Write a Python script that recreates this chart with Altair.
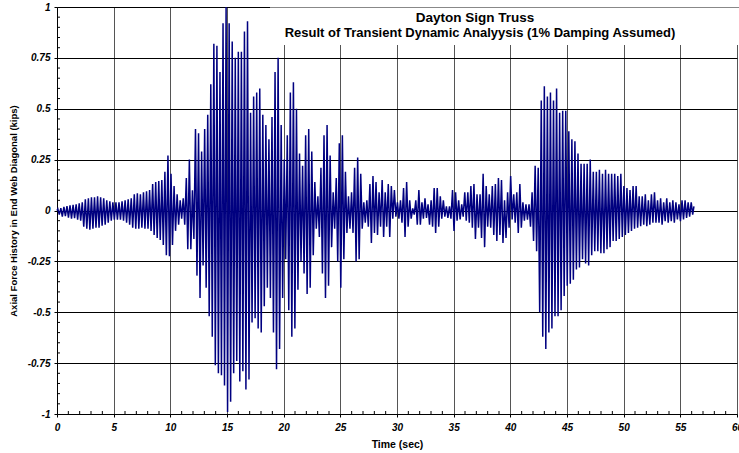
import altair as alt
import pandas as pd

# ---------------- data ----------------
# one oscillation cycle every PERIOD seconds; for each cycle the positive
# and the negative peak value (kips)
PERIOD = 0.27
TOP_OFFSET = 0.07
BOTTOM_OFFSET = 0.20

peak_max = [
    0.008, 0.012, 0.018, 0.022, 0.025, 0.028, 0.030, 0.035, 0.040, 0.055,  # 0.0-2.7 s
    0.060, 0.065, 0.065, 0.070, 0.065, 0.060, 0.050, 0.045, 0.040, 0.040,  # 2.7-5.4
    0.040, 0.045, 0.050, 0.055, 0.060, 0.080, 0.085, 0.080, 0.090, 0.095,  # 5.4-8.1
    0.100, 0.130, 0.140, 0.145, 0.150, 0.190, 0.270, 0.180, 0.120, 0.080,  # 8.1-10.8
    0.050, 0.060, 0.160, 0.250, 0.100, 0.400, 0.380, 0.290, 0.400, 0.470,  # 10.8-13.5
    0.620, 0.820, 0.810, 0.680, 0.920, 1.000, 0.920, 0.830, 0.750, 0.780,  # 13.5-16.2
    0.780, 0.880, 0.930, 0.480, 0.560, 0.580, 0.600, 0.470, 0.420, 0.350,  # 16.2-18.9
    0.460, 0.680, 0.750, 0.420, 0.250, 0.370, 0.580, 0.630, 0.500, 0.280,  # 18.9-21.6
    0.220, 0.370, 0.400, 0.290, 0.140, 0.070, 0.210, 0.370, 0.420, 0.270,  # 21.6-24.3
    0.090, 0.160, 0.330, 0.370, 0.190, 0.070, 0.090, 0.210, 0.260, 0.180,  # 24.3-27.0
    0.040, 0.050, 0.130, 0.170, 0.140, 0.090, 0.150, 0.090, 0.130, 0.120,  # 27.0-29.7
    0.100, 0.040, 0.050, 0.110, 0.140, 0.050, 0.010, 0.050, 0.100, 0.040,  # 29.7-32.4
    0.060, 0.030, 0.050, 0.110, 0.110, 0.070, 0.050, 0.020, 0.020, 0.100,  # 32.4-35.1
    0.090, 0.050, 0.030, 0.090, 0.090, 0.120, 0.130, 0.080, 0.080, 0.180,  # 35.1-37.8
    0.120, 0.080, 0.120, 0.130, 0.160, 0.150, 0.050, 0.090, 0.170, 0.080,  # 37.8-40.5
    0.090, 0.130, 0.040, 0.030, 0.030, 0.090, 0.220, 0.210, 0.540, 0.610,  # 40.5-43.2
    0.560, 0.580, 0.540, 0.600, 0.480, 0.490, 0.490, 0.390, 0.350, 0.340,  # 43.2-45.9
    0.280, 0.230, 0.230, 0.230, 0.250, 0.190, 0.190, 0.200, 0.180, 0.200,  # 45.9-48.6
    0.180, 0.180, 0.180, 0.170, 0.180, 0.120, 0.110, 0.100, 0.120, 0.120,  # 48.6-51.3
    0.070, 0.070, 0.080, 0.050, 0.080, 0.090, 0.050, 0.060, 0.040, 0.060,  # 51.3-54.0
    0.040, 0.050, 0.040, 0.030, 0.050, 0.050, 0.040, 0.040,                # 54.0-56.2
]

peak_min = [
    -0.020, -0.030, -0.028, -0.035, -0.040, -0.038, -0.045, -0.050, -0.080, -0.090,
    -0.095, -0.090, -0.085, -0.085, -0.075, -0.070, -0.060, -0.050, -0.045, -0.045,
    -0.045, -0.050, -0.060, -0.070, -0.085, -0.090, -0.090, -0.085, -0.090, -0.090,
    -0.100, -0.120, -0.135, -0.145, -0.170, -0.220, -0.225, -0.170, -0.100, -0.070,
    -0.040, -0.070, -0.190, -0.190, -0.140, -0.320, -0.430, -0.270, -0.380, -0.520,
    -0.620, -0.760, -0.800, -0.810, -0.860, -0.990, -0.940, -0.800, -0.740, -0.840,
    -0.790, -0.880, -0.830, -0.550, -0.530, -0.580, -0.600, -0.470, -0.380, -0.430,
    -0.600, -0.780, -0.680, -0.430, -0.240, -0.490, -0.620, -0.580, -0.390, -0.250,
    -0.310, -0.410, -0.380, -0.220, -0.090, -0.130, -0.310, -0.430, -0.370, -0.180,
    -0.090, -0.250, -0.380, -0.240, -0.110, -0.090, -0.110, -0.250, -0.240, -0.090,
    -0.060, -0.080, -0.160, -0.110, -0.120, -0.080, -0.130, -0.080, -0.130, -0.040,
    -0.030, -0.040, -0.060, -0.130, -0.080, -0.040, -0.020, -0.070, -0.070, -0.040,
    -0.036, -0.070, -0.080, -0.110, -0.080, -0.040, -0.030, -0.036, -0.040, -0.100,
    -0.050, -0.044, -0.030, -0.050, -0.060, -0.085, -0.140, -0.085, -0.135, -0.180,
    -0.080, -0.085, -0.120, -0.150, -0.120, -0.160, -0.135, -0.085, -0.044, -0.060,
    -0.110, -0.085, -0.050, -0.045, -0.080, -0.150, -0.200, -0.500, -0.620, -0.680,
    -0.600, -0.580, -0.520, -0.520, -0.490, -0.420, -0.370, -0.360, -0.340, -0.290,
    -0.280, -0.240, -0.260, -0.270, -0.220, -0.200, -0.200, -0.210, -0.210, -0.190,
    -0.180, -0.150, -0.150, -0.140, -0.130, -0.120, -0.110, -0.100, -0.090, -0.085,
    -0.077, -0.070, -0.077, -0.070, -0.060, -0.060, -0.060, -0.070, -0.052, -0.060,
    -0.052, -0.060, -0.044, -0.052, -0.044, -0.036, -0.030, -0.020,
]

start_point = (0.0, 0.0)
end_point = (56.2, 0.02)

x_ticks = [0, 5, 10, 15, 20, 25, 30, 35, 40, 45, 50, 55, 60]
y_ticks = [-1, -0.75, -0.5, -0.25, 0, 0.25, 0.5, 0.75, 1]
x_minor = [s for s in range(0, 61) if s % 5 != 0]
y_minor = [round(-1 + 0.05 * i, 2) for i in range(41) if i % 5 != 0]

title_lines = ["Dayton Sign Truss",
               "Result of Transient Dynamic Analyysis (1% Damping Assumed)"]
x_title = "Time (sec)"
y_title = "Axial Force History in End Web Diagonal (kips)"

# ---------------- build table ----------------
rows = [{"t": start_point[0], "v": start_point[1]}]
for k, (hi, lo) in enumerate(zip(peak_max, peak_min)):
    rows.append({"t": round(TOP_OFFSET + PERIOD * k, 3), "v": hi})
    rows.append({"t": round(BOTTOM_OFFSET + PERIOD * k, 3), "v": lo})
rows.append({"t": end_point[0], "v": end_point[1]})
df = pd.DataFrame(rows)

W, H = 680, 407
FONT = "Liberation Sans"

xscale = alt.Scale(domain=[0, 60], nice=False, zero=False)
yscale = alt.Scale(domain=[-1, 1], nice=False, zero=False)

xaxis = alt.Axis(values=x_ticks, title=x_title, grid=True, gridColor="#555555",
                 gridWidth=1, domainColor="black", tickColor="black", tickSize=3,
                 labelFont=FONT, labelFontSize=10, labelFontWeight="bold",
                 labelFontStyle="italic", labelColor="black", labelPadding=5,
                 titleFont=FONT, titleFontSize=10.5, titleFontWeight="bold",
                 titleColor="black", titleX=W / 2, titleY=30, titleBaseline="middle",
                 labelFlush=False, labelOverlap=False)
yaxis = alt.Axis(values=y_ticks, title=y_title, grid=True, gridColor="black",
                 gridWidth=1, domainColor="black", tickColor="black", tickSize=3,
                 labelFont=FONT, labelFontSize=10, labelFontWeight="bold",
                 labelFontStyle="italic", labelColor="black", labelPadding=4,
                 labelExpr="'' + datum.value",
                 titleFont=FONT, titleFontSize=9.5, titleFontWeight="bold",
                 titleColor="black", titleX=-44, titleY=H / 2, titleAngle=270,
                 titleBaseline="middle", titleAlign="center",
                 labelFlush=False, labelOverlap=False)

signal = alt.Chart(df).mark_line(color="#000080", strokeWidth=1.5).encode(
    x=alt.X("t:Q", scale=xscale, axis=xaxis),
    y=alt.Y("v:Q", scale=yscale, axis=yaxis),
)

xminor_layer = alt.Chart(pd.DataFrame({"t": x_minor})).mark_rule(
    color="black", strokeWidth=1).encode(
    x=alt.X("t:Q", scale=xscale, axis=xaxis),
    y=alt.value(H - 3), y2=alt.value(H),
)
yminor_layer = alt.Chart(pd.DataFrame({"v": y_minor})).mark_rule(
    color="black", strokeWidth=1).encode(
    y=alt.Y("v:Q", scale=yscale, axis=yaxis),
    x=alt.value(0), x2=alt.value(3),
)

one = pd.DataFrame({"k": [0]})
box = alt.Chart(one).mark_rect(color="white").encode(
    x=alt.value(213), x2=alt.value(W + 2), y=alt.value(0.5), y2=alt.value(38))
box_top = alt.Chart(one).mark_rule(color="#888888", strokeWidth=1).encode(
    x=alt.value(213), x2=alt.value(W + 2), y=alt.value(0.5))
t1 = alt.Chart(one).mark_text(text=title_lines[0], font=FONT, fontSize=13.5,
                              fontWeight="bold", color="black", align="center",
                              baseline="middle").encode(
    x=alt.value(418), y=alt.value(11))
t2 = alt.Chart(one).mark_text(text=title_lines[1], font=FONT, fontSize=13,
                              fontWeight="bold", color="black", align="center",
                              baseline="middle").encode(
    x=alt.value(423), y=alt.value(26))

chart = alt.layer(signal, xminor_layer, yminor_layer, box, box_top, t1, t2).properties(
    width=W, height=H,
    autosize=alt.AutoSizeParams(type="none"),
    padding={"left": 57, "top": 7, "right": 2, "bottom": 39},
    background="white",
).configure_view(strokeWidth=0)

chart.save("out.html", embed_options={"renderer": "svg", "actions": False})
